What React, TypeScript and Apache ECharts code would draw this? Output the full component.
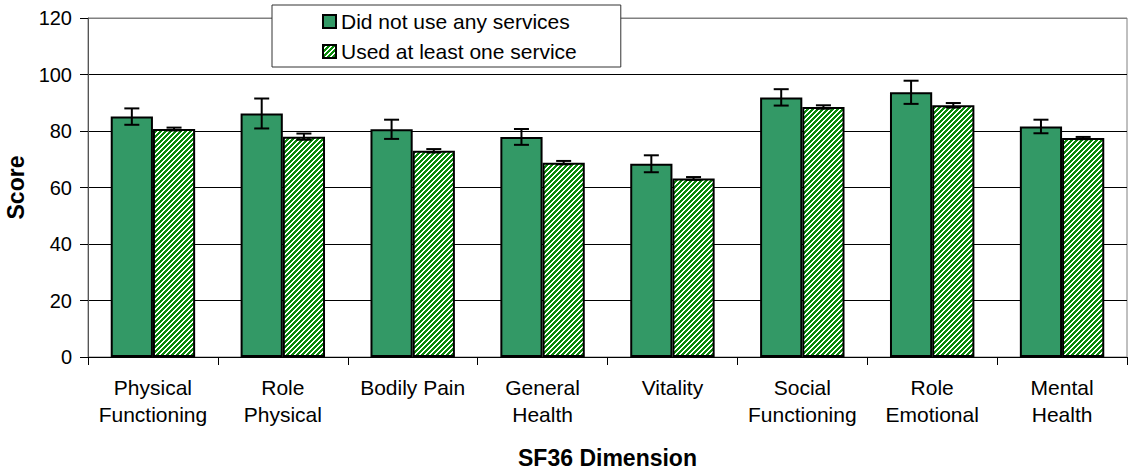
import React, { useEffect, useRef } from "react";
import * as echarts from "echarts";

const categories = [
  "Physical\nFunctioning",
  "Role\nPhysical",
  "Bodily Pain",
  "General\nHealth",
  "Vitality",
  "Social\nFunctioning",
  "Role\nEmotional",
  "Mental\nHealth",
];
const seriesNames = ["Did not use any services", "Used at least one service"];
const noServices = [85.1, 86.2, 80.6, 77.9, 68.4, 91.9, 93.7, 81.6];
const noServicesErr = [2.9, 5.3, 3.4, 2.8, 3.0, 2.9, 4.1, 2.4];
const usedService = [80.7, 78.0, 73.0, 68.8, 63.2, 88.5, 89.1, 77.5];
const usedServiceErr = [0.5, 1.1, 0.6, 0.6, 0.5, 0.6, 0.8, 0.4];
const yTicks = [0, 20, 40, 60, 80, 100, 120];

const FONT = "'Liberation Sans', Arial, sans-serif";

function makeHatch(): HTMLCanvasElement {
  const size = 10;
  const c = document.createElement("canvas");
  c.width = size;
  c.height = size;
  const ctx = c.getContext("2d")!;
  ctx.fillStyle = "#ffffff";
  ctx.fillRect(0, 0, size, size);
  ctx.fillStyle = "#0a8a0a";
  for (let x = 0; x < size; x++) {
    for (let y = 0; y < size; y++) {
      if ((x + y) % 5 < 2.6) ctx.fillRect(x, y, 1, 1);
    }
  }
  return c;
}

export default function App() {
  const ref = useRef<HTMLDivElement>(null);
  useEffect(() => {
    if (!ref.current) return;
    const chart = echarts.init(ref.current, null, { renderer: "svg" });
    const hatch = makeHatch();
    const errData = (vals: number[], errs: number[]) =>
      vals.map((v, i) => [i, v, errs[i]]);
    const makeErr = (side: number) => (params: any, api: any) => {
      const idx = api.value(0);
      const v = api.value(1);
      const e = api.value(2);
      const band = api.size([1, 0])[0];
      const bw = (band * 0.65) / 2;
      const c = api.coord([idx, v]);
      const x = c[0] + side * (bw / 2);
      const top = api.coord([idx, v + e])[1];
      const bot = api.coord([idx, v - e])[1];
      const cap = 7.5;
      const st = { stroke: "#000", lineWidth: 2 };
      return {
        type: "group",
        children: [
          { type: "line", shape: { x1: x, y1: top, x2: x, y2: bot }, style: st },
          { type: "line", shape: { x1: x - cap, y1: top, x2: x + cap, y2: top }, style: st },
          { type: "line", shape: { x1: x - cap, y1: bot, x2: x + cap, y2: bot }, style: st },
        ],
      };
    };
    const gridColors = yTicks.map((t) => (t === 120 ? "#808080" : "#000000"));
    chart.setOption({
      animation: false,
      textStyle: { fontFamily: FONT },
      grid: {
        left: 88,
        right: 1,
        top: 18,
        bottom: 116,
        containLabel: false,
        outerBoundsMode: "none",
        show: true,
        borderColor: "#808080",
        borderWidth: 1,
      },
      legend: {
        data: seriesNames,
        orient: "vertical",
        left: 272,
        top: 5,
        padding: [6, 44, 5, 50],
        itemGap: 9,
        itemWidth: 13,
        itemHeight: 13,
        icon: "rect",
        backgroundColor: "#ffffff",
        borderColor: "#333333",
        borderWidth: 1,
        borderRadius: 0,
        textStyle: { fontSize: 21, color: "#000", fontFamily: FONT, lineHeight: 21 },
      },
      xAxis: {
        type: "category",
        data: categories,
        name: "SF36 Dimension",
        nameLocation: "middle",
        nameGap: 89,
        nameTextStyle: { fontSize: 23, fontWeight: "bold", color: "#000", fontFamily: FONT },
        axisLine: { lineStyle: { color: "#000", width: 1 } },
        axisTick: { show: true, length: 8, lineStyle: { color: "#000" } },
        axisLabel: {
          interval: 0,
          fontSize: 21,
          lineHeight: 27,
          margin: 17,
          color: "#000",
          fontFamily: FONT,
        },
      },
      yAxis: {
        type: "value",
        min: 0,
        max: 120,
        interval: 20,
        name: "Score",
        nameLocation: "middle",
        nameGap: 58,
        nameTextStyle: { fontSize: 23, fontWeight: "bold", color: "#000", fontFamily: FONT },
        axisLine: { show: true, lineStyle: { color: "#555555", width: 1 } },
        axisTick: { show: true, length: 8, lineStyle: { color: "#000" } },
        axisLabel: { fontSize: 20, margin: 16, color: "#000", fontFamily: FONT },
        splitLine: { show: true, lineStyle: { color: gridColors, width: 1 } },
      },
      series: [
        {
          name: seriesNames[0],
          type: "bar",
          data: noServices,
          barGap: "0%",
          barCategoryGap: "35%",
          itemStyle: { color: "#339966", borderColor: "#000", borderWidth: 2 },
        },
        {
          name: seriesNames[1],
          type: "bar",
          data: usedService,
          barGap: "0%",
          barCategoryGap: "35%",
          itemStyle: {
            color: { image: hatch, repeat: "repeat" },
            borderColor: "#000",
            borderWidth: 2,
          },
        },
        {
          type: "custom",
          renderItem: makeErr(-1),
          data: errData(noServices, noServicesErr),
          z: 10,
          silent: true,
        },
        {
          type: "custom",
          renderItem: makeErr(1),
          data: errData(usedService, usedServiceErr),
          z: 10,
          silent: true,
        },
      ],
    });
    return () => chart.dispose();
  }, []);
  return (
    <div
      ref={ref}
      style={{ position: "fixed", left: 0, top: 0, width: 1128, height: 473, background: "#fff" }}
    />
  );
}
